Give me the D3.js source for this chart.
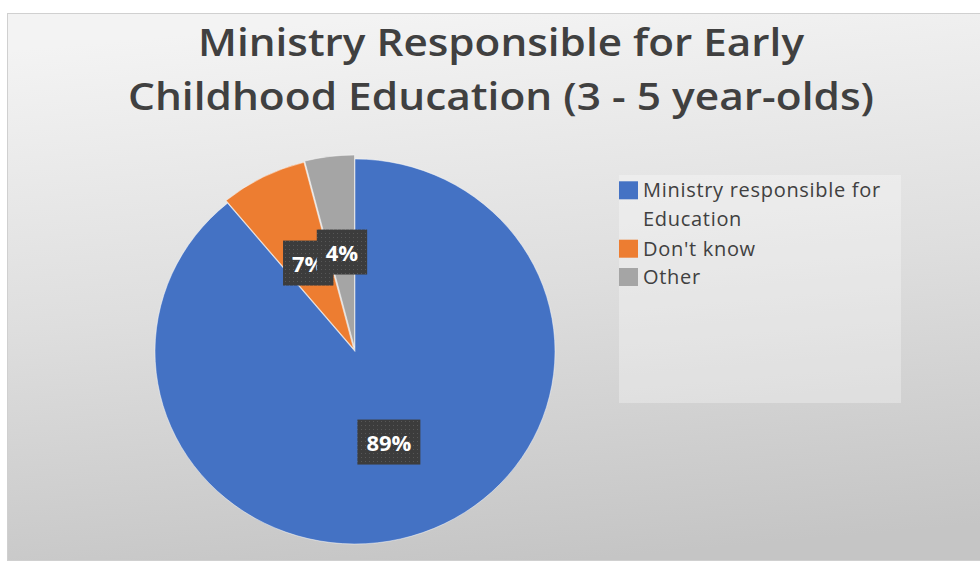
<!DOCTYPE html>
<html>
<head>
<meta charset="utf-8">
<script src="https://cdn.jsdelivr.net/npm/d3@7"></script>
<style>
  html, body { margin: 0; padding: 0; background: #ffffff; }
  svg { display: block; }
</style>
</head>
<body>
<svg id="chart" width="980" height="562"></svg>
<script>
// Survey answers and their shares (%)
const categories = ["Ministry responsible for Education", "Don't know", "Other"];
const values = [89, 7, 4];
const colors = ["#4472C4", "#ED7D31", "#A5A5A5"];
// Legend entries, wrapped as shown in the legend box
const legendLines = [["Ministry responsible for", "Education"], ["Don't know"], ["Other"]];
// Chart title, two lines
const titleLines = ["Ministry Responsible for Early", "Childhood Education (3 - 5 year-olds)"];
// How far each slice is pulled out of the pie (px)
const explode = [0, 3, 4];

const W = 980, H = 562;
const svg = d3.select("#chart");
const defs = svg.append("defs");

// Chart area background: soft grey gradient
const grad = defs.append("linearGradient")
  .attr("id", "bg")
  .attr("x1", "0.42").attr("y1", "0")
  .attr("x2", "0.58").attr("y2", "1");
grad.append("stop").attr("offset", "0").attr("stop-color", "#f3f3f3");
grad.append("stop").attr("offset", "0.5").attr("stop-color", "#dedede");
grad.append("stop").attr("offset", "1").attr("stop-color", "#c5c5c5");

// Dotted dark fill for the data label boxes
const pat = defs.append("pattern")
  .attr("id", "dots")
  .attr("patternUnits", "userSpaceOnUse")
  .attr("width", 4).attr("height", 4);
pat.append("rect").attr("width", 4).attr("height", 4).attr("fill", "#3c3c3c");
pat.append("rect").attr("x", 1).attr("y", 1).attr("width", 1).attr("height", 1).attr("fill", "#575757");

svg.append("rect")
  .attr("x", 7.5).attr("y", 13.5)
  .attr("width", W).attr("height", 547)
  .attr("fill", "url(#bg)")
  .attr("stroke", "#d0d0d0").attr("stroke-width", 1);

// Title
const title = svg.append("text")
  .attr("text-anchor", "middle")
  .attr("font-family", "'Open Sans', 'Noto Sans', sans-serif")
  .attr("font-weight", 650)
  .attr("font-size", 37)
  .attr("fill", "#404040");
const titleBase = [56, 110];
const titleWidth = [606, 746];
titleLines.forEach((t, i) => {
  const tl = title.append("tspan").attr("x", 501).attr("y", titleBase[i]).text(t);
  const w = tl.node().getComputedTextLength();
  if (Math.abs(w - titleWidth[i]) > 4) {
    tl.attr("textLength", titleWidth[i]).attr("lengthAdjust", "spacingAndGlyphs");
  }
});

// Pie
const cx = 355, cy = 351.5, r = 200, yScale = 0.9625;
const pie = d3.pie().sort(null).value(d => d)(values);
const arc = d3.arc().innerRadius(0).outerRadius(r);
const labelArc = d3.arc().innerRadius(100).outerRadius(100);

function offsetOf(d, i) {
  const a = (d.startAngle + d.endAngle) / 2;
  return [Math.sin(a) * explode[i], -Math.cos(a) * explode[i]];
}

const pieG = svg.append("g")
  .attr("transform", `translate(${cx},${cy}) scale(1,${yScale})`);
pieG.selectAll("path")
  .data(pie)
  .join("path")
  .attr("transform", (d, i) => {
    const o = offsetOf(d, i);
    return `translate(${o[0]},${o[1] / yScale})`;
  })
  .attr("d", arc)
  .attr("fill", (d, i) => colors[i])
  .attr("stroke", "#ffffff")
  .attr("stroke-opacity", 0.6)
  .attr("stroke-width", 0.8);

// Data labels: dark boxes with white bold text
const labelG = svg.append("g");
pie.forEach((d, i) => {
  const c = labelArc.centroid(d);
  const o = offsetOf(d, i);
  const x = cx + c[0] + o[0];
  const y = cy + c[1] * yScale + o[1];
  const g = labelG.append("g");
  const rect = g.append("rect").attr("fill", "url(#dots)");
  const t = g.append("text")
    .attr("x", x).attr("y", y)
    .attr("text-anchor", "middle")
    .attr("dominant-baseline", "central")
    .attr("font-family", "'Open Sans', 'Noto Sans', sans-serif")
    .attr("font-weight", "bold")
    .attr("font-size", 22)
    .attr("fill", "#ffffff")
    .text(d3.format(".0%")(d.data / 100));
  const w = t.node().getComputedTextLength();
  const bw = w + 18, bh = 45;
  rect.attr("x", x - bw / 2).attr("y", y - bh / 2)
    .attr("width", bw).attr("height", bh);
});

// Legend
const legend = svg.append("g");
legend.append("rect")
  .attr("x", 619).attr("y", 175)
  .attr("width", 282).attr("height", 228)
  .attr("fill", "#ffffff").attr("fill-opacity", 0.3);

const rowY = [197.3, 255.7, 284];
const lineStep = 28.7;
categories.forEach((c, i) => {
  legend.append("rect")
    .attr("x", 619).attr("y", rowY[i] - 16)
    .attr("width", 19).attr("height", 18)
    .attr("fill", colors[i]);
  const t = legend.append("text")
    .attr("font-family", "'Open Sans', 'Noto Sans', sans-serif")
    .attr("font-size", 20)
    .attr("letter-spacing", 0.7)
    .attr("fill", "#404040");
  legendLines[i].forEach((ln, j) => {
    t.append("tspan").attr("x", 643).attr("y", rowY[i] + j * lineStep).text(ln);
  });
});
</script>
</body>
</html>
